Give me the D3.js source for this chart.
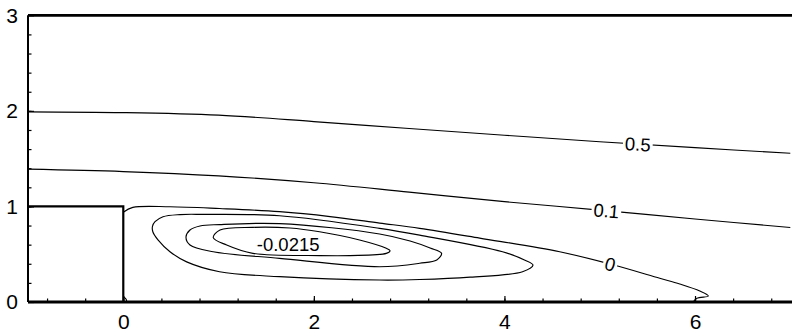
<!DOCTYPE html>
<html>
<head>
<meta charset="utf-8">
<script src="https://cdn.jsdelivr.net/npm/d3@7"></script>
<style>
  html, body { margin: 0; padding: 0; background: #fff; }
  svg { display: block; }
  text { font-family: "Liberation Sans", Arial, Helvetica, sans-serif; fill: #000; }
</style>
</head>
<body>
<svg id="chart" width="792" height="335"></svg>
<script>
// Streamlines of flow over a backward-facing step (x, y in step heights)

const xMajorTicks = [0, 2, 4, 6];
const yMajorTicks = [0, 1, 2, 3];

// Step outline: top face and vertical wall
const stepOutline = [[-1, 1], [0, 1], [0, 0]];

// Open streamlines
const psi05 = [[-1, 1.99], [0, 1.982], [1, 1.955], [2, 1.888], [3, 1.815], [4, 1.745],
               [5, 1.677], [6, 1.615], [7, 1.556]];
const psi01 = [[-1, 1.39], [0, 1.365], [1, 1.32], [2, 1.248], [3, 1.15], [4, 1.05],
               [5, 0.962], [6, 0.868], [7, 0.78]];
const psi0 = [[0, 0.94], [0.1, 0.99], [0.49, 0.997], [1.01, 0.978], [1.64, 0.945],
              [2.17, 0.894], [2.69, 0.826], [3.11, 0.771], [3.74, 0.669], [4.58, 0.526],
              [5.11, 0.397], [5.63, 0.248], [5.84, 0.188], [6.05, 0.115], [6.14, 0.063],
              [6.02, 0.039], [5.98, 0.0]];
// Small corner eddy at the foot of the step
const cornerEddy = [[0, 0.055], [0.03, 0.028], [0.036, 0]];

// Closed recirculation contours, outer to inner
const recirc1 = [[0.306, 0.79], [0.333, 0.84], [0.417, 0.892], [0.595, 0.915], [0.836, 0.917],
                 [1.64, 0.903], [2.69, 0.771], [3.11, 0.70], [3.98, 0.526], [4.21, 0.44],
                 [4.30, 0.387], [4.19, 0.317], [3.64, 0.26], [3.11, 0.235], [2.69, 0.23],
                 [1.64, 0.265], [1.01, 0.317], [0.665, 0.42], [0.49, 0.526], [0.364, 0.65],
                 [0.31, 0.735]];
const recirc2 = [[0.658, 0.68], [0.70, 0.753], [0.805, 0.795], [1.01, 0.81], [1.64, 0.82],
                 [2.69, 0.712], [3.01, 0.638], [3.22, 0.565], [3.34, 0.51], [3.29, 0.44],
                 [3.11, 0.405], [2.69, 0.369], [1.64, 0.457], [0.944, 0.526], [0.70, 0.596]];
const recirc3 = [[0.944, 0.675], [1.015, 0.753], [1.36, 0.781], [1.75, 0.774], [2.06, 0.735],
                 [2.48, 0.649], [2.76, 0.562], [2.80, 0.537], [2.76, 0.509], [2.38, 0.486],
                 [2.06, 0.486], [1.36, 0.509], [1.085, 0.596]];

// Contour labels: text, streamline and x position along it
const lineLabels = [
  { text: "0.5", line: psi05, x: 5.40 },
  { text: "0.1", line: psi01, x: 5.07 },
  { text: "0",   line: psi0,  x: 5.11 }
];
const coreLabel = { text: "-0.0215", x: 1.73, y: 0.607 };

const svg = d3.select("#chart");
const x = d3.scaleLinear().domain([-1, 7]).range([28, 790.3]);
const y = d3.scaleLinear().domain([0, 3]).range([302, 15.3]);

const open = d3.line().x(d => x(d[0])).y(d => y(d[1])).curve(d3.curveCatmullRom.alpha(0.5));
const closed = d3.line().x(d => x(d[0])).y(d => y(d[1])).curve(d3.curveCatmullRomClosed.alpha(0.5));
const straight = d3.line().x(d => x(d[0])).y(d => y(d[1]));

const g = svg.append("g");

// Streamlines
[psi05, psi01, psi0, cornerEddy].forEach(l =>
  g.append("path").attr("d", open(l)).attr("fill", "none").attr("stroke", "#000").attr("stroke-width", 1.15));
[recirc1, recirc2, recirc3].forEach(l =>
  g.append("path").attr("d", closed(l)).attr("fill", "none").attr("stroke", "#000").attr("stroke-width", 1.15));

// Inline labels with a gap cut into the line
function yAt(line, xv) {
  for (let i = 0; i < line.length - 1; i++) {
    const a = line[i], b = line[i + 1];
    if ((xv - a[0]) * (xv - b[0]) <= 0 && a[0] !== b[0]) {
      return a[1] + (b[1] - a[1]) * (xv - a[0]) / (b[0] - a[0]);
    }
  }
  return line[line.length - 1][1];
}
lineLabels.forEach(L => {
  const px = x(L.x), py = y(yAt(L.line, L.x));
  const p1 = [x(L.x - 0.2), y(yAt(L.line, L.x - 0.2))];
  const p2 = [x(L.x + 0.2), y(yAt(L.line, L.x + 0.2))];
  const ang = Math.atan2(p2[1] - p1[1], p2[0] - p1[0]) * 180 / Math.PI;
  const lg = g.append("g").attr("transform", `translate(${px},${py}) rotate(${ang})`);
  const t = lg.append("text").attr("text-anchor", "middle").attr("dy", "0.36em")
    .attr("font-size", 18.5).text(L.text);
  const w = t.node().getComputedTextLength();
  lg.insert("rect", "text").attr("x", -w / 2 - 2).attr("y", -6).attr("width", w + 4).attr("height", 12)
    .attr("fill", "#fff");
});
g.append("text").attr("x", x(coreLabel.x)).attr("y", y(coreLabel.y)).attr("dy", "0.36em")
  .attr("text-anchor", "middle").attr("font-size", 18.5).text(coreLabel.text);

// Step
g.append("path").attr("d", straight(stepOutline)).attr("fill", "none")
  .attr("stroke", "#000").attr("stroke-width", 2.2);

// Axes: minor ticks then labelled major ticks, all pointing into the plot
const xMinor = d3.range(-0.8, 7.0001, 0.4).map(v => +v.toFixed(1));
const yMinor = d3.range(0.2, 3, 0.2).map(v => +v.toFixed(1));

svg.append("g").attr("transform", `translate(0,${y(0)})`)
  .call(d3.axisBottom(x).tickValues(xMinor).tickSize(-3.5).tickFormat(""))
  .call(a => a.select(".domain").remove());
svg.append("g").attr("transform", `translate(0,${y(0)})`)
  .call(d3.axisBottom(x).tickValues(xMajorTicks).tickSizeInner(-6).tickSizeOuter(0).tickPadding(12).tickFormat(d3.format("d")))
  .call(a => a.select(".domain").remove())
  .call(a => a.selectAll("text").attr("font-size", 21).attr("font-family", null));
svg.append("g").attr("transform", `translate(${x(-1)},0)`)
  .call(d3.axisLeft(y).tickValues(yMinor).tickSize(-3.5).tickFormat(""))
  .call(a => a.select(".domain").remove());
svg.append("g").attr("transform", `translate(${x(-1)},0)`)
  .call(d3.axisLeft(y).tickValues(yMajorTicks).tickSizeInner(-6).tickSizeOuter(0).tickPadding(10).tickFormat(d3.format("d")))
  .call(a => a.select(".domain").remove())
  .call(a => a.selectAll("text").attr("font-size", 21).attr("font-family", null));
svg.selectAll(".tick line").attr("stroke", "#000").attr("stroke-width", 1.2);

// Frame lines: left, bottom and top
svg.append("line").attr("x1", x(-1)).attr("x2", x(-1)).attr("y1", y(3)).attr("y2", y(0))
  .attr("stroke", "#000").attr("stroke-width", 2);
svg.append("line").attr("x1", x(-1)).attr("x2", 792).attr("y1", y(0)).attr("y2", y(0))
  .attr("stroke", "#000").attr("stroke-width", 2.8);
svg.append("line").attr("x1", x(-1)).attr("x2", 792).attr("y1", y(3)).attr("y2", y(3))
  .attr("stroke", "#000").attr("stroke-width", 2.8);
</script>
</body>
</html>
